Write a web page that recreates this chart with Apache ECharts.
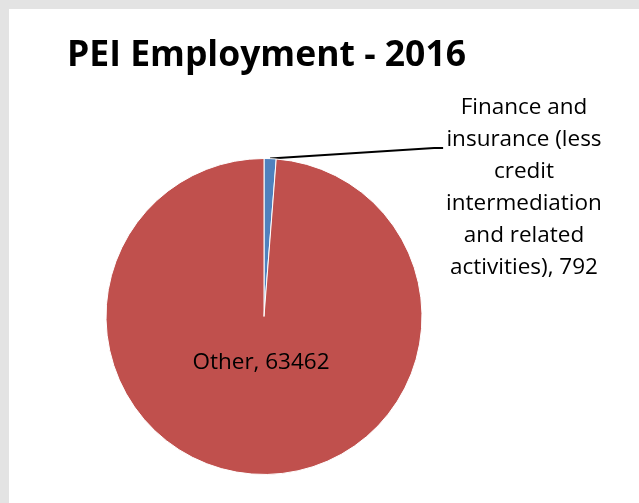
<!DOCTYPE html>
<html>
<head>
<meta charset="utf-8">
<script src="https://cdn.jsdelivr.net/npm/echarts@6/dist/echarts.min.js"></script>
<style>
  html, body { margin: 0; padding: 0; background: #e3e3e3; width: 639px; height: 503px; overflow: hidden; }
  #chart { position: absolute; left: 9px; top: 9px; width: 630px; height: 494px; background: #ffffff; }
</style>
</head>
<body>
<div id="chart"></div>
<script>
// PEI employment, 2016
const categories = ['Finance and\ninsurance (less\ncredit\nintermediation\nand related\nactivities)', 'Other'];
const employment = [792, 63462];
const sliceColors = ['#4F81BD', '#C0504D'];

const FONT = '"Open Sans", Lato, sans-serif';
const chart = echarts.init(document.getElementById('chart'), null, { renderer: 'canvas' });

const cx = 255, cy = 307.5, radius = 158;

chart.setOption({
  animation: false,
  title: {
    text: 'PEI Employment - 2016',
    left: 53,
    top: 24,
    textStyle: { fontFamily: FONT, fontWeight: 'bold', fontSize: 35.5, color: '#000' }
  },
  series: [{
    type: 'pie',
    center: [cx, cy],
    radius: radius,
    startAngle: 90,
    clockwise: true,
    avoidLabelOverlap: false,
    itemStyle: { borderColor: '#ffffff', borderWidth: 1 },
    label: {
      show: true,
      formatter: p => p.name + ', ' + p.value,
      fontFamily: FONT,
      fontSize: 22.5,
      lineHeight: 32,
      color: '#000',
      align: 'center'
    },
    labelLine: { show: true, lineStyle: { color: '#000', width: 2 } },
    data: categories.map((name, i) => ({
      name: name,
      value: employment[i],
      itemStyle: { color: sliceColors[i] },
      label: i === 1 ? { position: 'inside' } : { position: 'outside' },
      labelLine: { show: i === 0 }
    })),
    labelLayout: function (params) {
      if (params.dataIndex === 1) {
        return { x: cx - 3, y: cy + 46, align: 'center', verticalAlign: 'middle' };
      }
      const lx = 515, ly = 179;
      const h = params.labelRect.height, w = params.labelRect.width;
      const start = params.labelLinePoints ? params.labelLinePoints[0] : [cx, cy - radius];
      const endY = ly - h / 2 + 1.5 * 32 + 8;
      const endX = lx - w / 2 - 3;
      return {
        x: lx, y: ly, align: 'center', verticalAlign: 'middle',
        labelLinePoints: [start, [endX - 9, endY], [endX, endY]]
      };
    }
  }]
});
</script>
</body>
</html>
